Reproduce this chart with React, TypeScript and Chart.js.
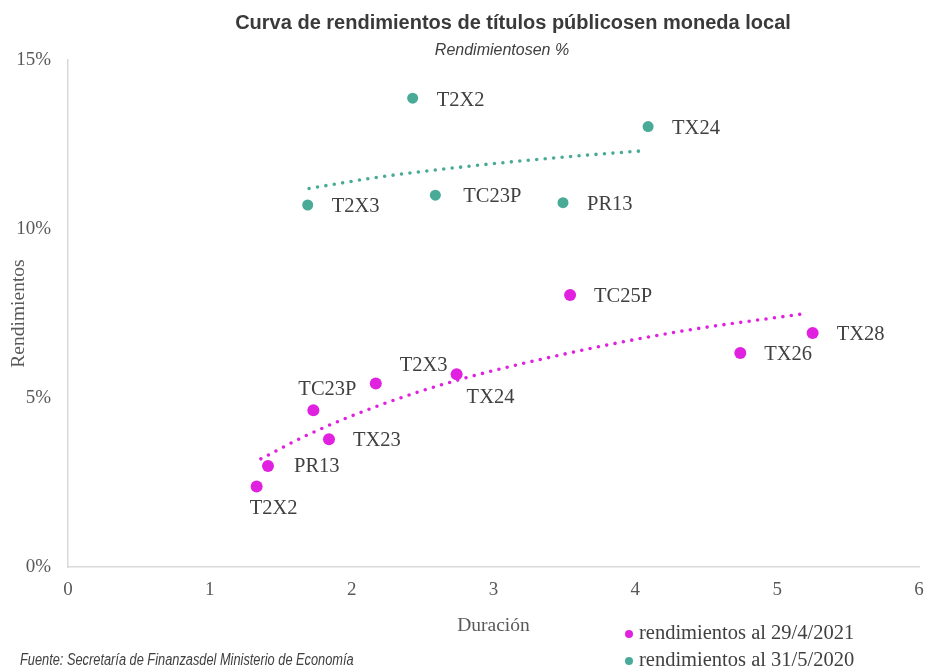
import React, { useEffect, useRef } from "react";
import { Chart, registerables } from "chart.js";

Chart.register(...registerables);

// ---- Data ----
const series2021Label = "rendimientos al 29/4/2021";
const series2021Tickers = ["T2X2", "PR13", "TC23P", "TX23", "T2X3", "TX24", "TC25P", "TX26", "TX28"];
const series2021Duration = [1.33, 1.41, 1.73, 1.84, 2.17, 2.74, 3.54, 4.74, 5.25];
const series2021Yield = [2.38, 2.99, 4.64, 3.78, 5.43, 5.70, 8.05, 6.33, 6.92];

const series2020Label = "rendimientos al 31/5/2020";
const series2020Tickers = ["T2X3", "T2X2", "TC23P", "PR13", "TX24"];
const series2020Duration = [1.69, 2.43, 2.59, 3.49, 4.09];
const series2020Yield = [10.71, 13.87, 11.0, 10.78, 13.03];

// trend lines
const trend2021Duration = [1.36, 1.7, 2.2, 2.74, 3.5, 4.3, 5.2];
const trend2021Yield = [3.2, 3.93, 4.79, 5.52, 6.3, 6.96, 7.5];
const trend2020Duration = [1.7, 2.2, 2.9, 3.5, 4.07];
const trend2020Yield = [11.2, 11.54, 11.89, 12.13, 12.32];

const xTicks = [0, 1, 2, 3, 4, 5, 6];
const yTicks = [0, 5, 10, 15];

const titleText = "Curva de rendimientos de títulos públicosen moneda local";
const subtitleText = "Rendimientosen %";
const xTitle = "Duración";
const yTitle = "Rendimientos";
const sourceText = "Fuente: Secretaría de Finanzasdel Ministerio de Economía";

// ---- Styles ----
const MAGENTA = "#E021E0";
const TEAL = "#49AA98";
const TEXT = "#404040";
const SERIF = '"Liberation Serif", "Times New Roman", serif';
const SANS = '"Liberation Sans", Arial, sans-serif';

const DEFAULT_OFFSET: [number, number] = [24, 2];
const offsets2021: Record<string, [number, number]> = {
  T2X2: [-7, 22],
  PR13: [26, 1],
  TC23P: [-15, -21],
  TX23: [24, 1],
  T2X3: [24, -18],
  TX24: [10, 23],
};
const offsets2020: Record<string, [number, number]> = {
  TC23P: [28, 1],
};

const toPoints = (xs: number[], ys: number[]) => xs.map((x, i) => ({ x, y: ys[i] }));

const labelPlugin = {
  id: "pointLabels",
  afterDatasetsDraw(chart: any) {
    const ctx = chart.ctx;
    chart.data.datasets.forEach((ds: any, i: number) => {
      if (!ds.pointLabels) return;
      const meta = chart.getDatasetMeta(i);
      ctx.save();
      ctx.font = `20.5px ${SERIF}`;
      ctx.fillStyle = TEXT;
      ctx.textBaseline = "middle";
      ctx.textAlign = "left";
      meta.data.forEach((el: any, j: number) => {
        const name = ds.pointLabels[j];
        const off = (ds.labelOffsets && ds.labelOffsets[name]) || DEFAULT_OFFSET;
        ctx.fillText(name, el.x + off[0], el.y + off[1]);
      });
      ctx.restore();
    });
  },
};

export default function App() {
  const canvasRef = useRef<HTMLCanvasElement | null>(null);

  useEffect(() => {
    if (!canvasRef.current) return;
    const chart = new Chart(canvasRef.current, {
      type: "scatter",
      data: {
        datasets: [
          {
            type: "line",
            label: "trend2021",
            data: toPoints(trend2021Duration, trend2021Yield),
            borderColor: MAGENTA,
            borderWidth: 3.6,
            borderDash: [0, 8.5],
            borderCapStyle: "round",
            pointRadius: 0,
            fill: false,
            cubicInterpolationMode: "monotone",
            order: 0,
          } as any,
          {
            type: "line",
            label: "trend2020",
            data: toPoints(trend2020Duration, trend2020Yield),
            borderColor: TEAL,
            borderWidth: 3.6,
            borderDash: [0, 8.5],
            borderCapStyle: "round",
            pointRadius: 0,
            fill: false,
            cubicInterpolationMode: "monotone",
            order: 0,
          } as any,
          {
            label: series2021Label,
            data: toPoints(series2021Duration, series2021Yield),
            backgroundColor: MAGENTA,
            borderColor: MAGENTA,
            pointRadius: 6,
            pointBorderWidth: 0,
            order: 1,
            pointLabels: series2021Tickers,
            labelOffsets: offsets2021,
          } as any,
          {
            label: series2020Label,
            data: toPoints(series2020Duration, series2020Yield),
            backgroundColor: TEAL,
            borderColor: TEAL,
            pointRadius: 5.5,
            pointBorderWidth: 0,
            order: 1,
            pointLabels: series2020Tickers,
            labelOffsets: offsets2020,
          } as any,
        ],
      },
      options: {
        animation: false,
        responsive: true,
        maintainAspectRatio: false,
        layout: { padding: { left: 0, top: 60, right: 7, bottom: 28 } },
        plugins: {
          legend: { display: false },
          tooltip: { enabled: false },
          title: { display: false },
        },
        scales: {
          x: {
            type: "linear",
            min: 0,
            max: 6,
            afterBuildTicks: (scale: any) => {
              scale.ticks = xTicks.map((v) => ({ value: v }));
            },
            afterFit: (scale: any) => {
              scale.height = 76;
              scale.paddingLeft = 0;
              scale.paddingRight = 0;
            },
            grid: { display: false, drawTicks: false },
            border: { display: true, color: "#D9D9D9", width: 1.5 },
            ticks: {
              color: "#595959",
              font: { family: SERIF, size: 19 },
              padding: 12,
              maxRotation: 0,
            },
            title: {
              display: true,
              text: xTitle,
              color: "#595959",
              font: { family: SERIF, size: 19.5 },
              padding: { top: 4, bottom: 5 },
            },
          },
          y: {
            type: "linear",
            min: 0,
            max: 15,
            afterBuildTicks: (scale: any) => {
              scale.ticks = yTicks.map((v) => ({ value: v }));
            },
            afterFit: (scale: any) => {
              scale.width = 68;
              scale.paddingTop = 0;
              scale.paddingBottom = 0;
            },
            grid: { display: false, drawTicks: false },
            border: { display: true, color: "#D9D9D9", width: 1.5 },
            ticks: {
              color: "#595959",
              font: { family: SERIF, size: 19 },
              padding: 17,
              callback: (v: any) => `${v}%`,
            },
            title: {
              display: true,
              text: yTitle,
              color: "#595959",
              font: { family: SERIF, size: 19.5 },
              padding: { top: 7, bottom: 4 },
            },
          },
        },
      } as any,
      plugins: [labelPlugin],
    });
    return () => chart.destroy();
  }, []);

  const dot = (color: string) => ({
    display: "inline-block",
    width: 8,
    height: 8,
    borderRadius: "50%",
    background: color,
    marginRight: 6,
    verticalAlign: "middle",
  });

  return (
    <div style={{ position: "absolute", left: 0, top: 0, width: 926, height: 671, background: "#fff", overflow: "hidden" }}>
      <div style={{ position: "absolute", left: 0, top: 0, width: 926, height: 671 }}>
        <canvas ref={canvasRef} />
      </div>
      <div
        style={{
          position: "absolute",
          left: 513 - 400,
          width: 800,
          top: 10,
          textAlign: "center",
          font: `bold 20px ${SANS}`,
          color: "#3A3A3A",
          lineHeight: "24px",
          whiteSpace: "nowrap",
        }}
      >
        {titleText}
      </div>
      <div
        style={{
          position: "absolute",
          left: 502 - 200,
          width: 400,
          top: 40,
          textAlign: "center",
          font: `italic 16px ${SANS}`,
          color: TEXT,
          lineHeight: "20px",
          whiteSpace: "nowrap",
        }}
      >
        {subtitleText}
      </div>
      <div
        style={{
          position: "absolute",
          left: 625,
          top: 619,
          font: `20.5px ${SERIF}`,
          color: TEXT,
          lineHeight: "27px",
          whiteSpace: "nowrap",
        }}
      >
        <div>
          <span style={dot(MAGENTA)} />
          {series2021Label}
        </div>
        <div>
          <span style={dot(TEAL)} />
          {series2020Label}
        </div>
      </div>
      <div
        style={{
          position: "absolute",
          left: 20,
          top: 650,
          font: `italic 16px ${SANS}`,
          color: TEXT,
          lineHeight: "20px",
          whiteSpace: "nowrap",
          transform: "scaleX(0.8)",
          transformOrigin: "left center",
        }}
      >
        {sourceText}
      </div>
    </div>
  );
}
